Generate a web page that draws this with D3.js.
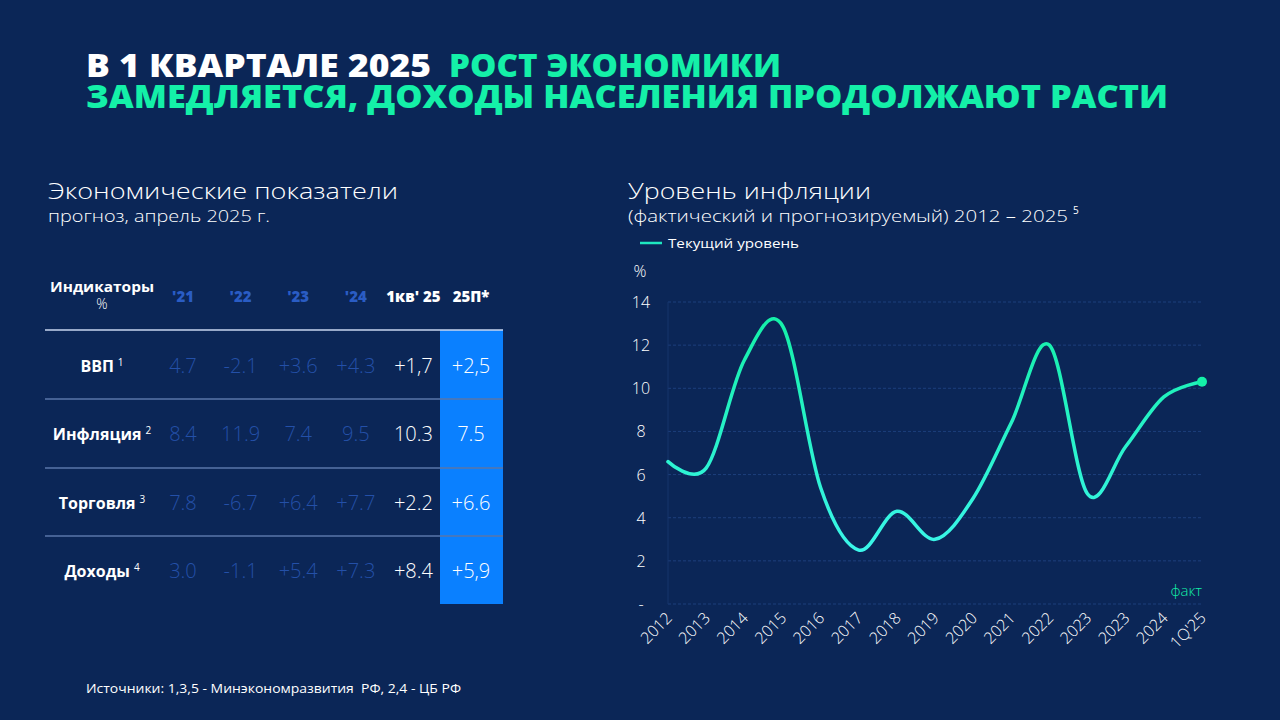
<!DOCTYPE html>
<html>
<head>
<meta charset="utf-8">
<script src="https://cdn.jsdelivr.net/npm/d3@7"></script>
<style>
  body { margin: 0; background: #0b2657; }
  svg { display: block; }
</style>
</head>
<body>
<svg id="slide" width="1280" height="720"></svg>
<script>
// table data
var colHeads = ["'21", "'22", "'23", "'24", "1кв' 25", "25П*"];
var rowNames = ["ВВП", "Инфляция", "Торговля", "Доходы"];
var rowNotes = ["1", "2", "3", "4"];
var gdp = ["4.7", "-2.1", "+3.6", "+4.3", "+1,7", "+2,5"];
var infl = ["8.4", "11.9", "7.4", "9.5", "10.3", "7.5"];
var trade = ["7.8", "-6.7", "+6.4", "+7.7", "+2.2", "+6.6"];
var income = ["3.0", "-1.1", "+5.4", "+7.3", "+8.4", "+5,9"];

// inflation chart data
var years = ["2012", "2013", "2014", "2015", "2016", "2017", "2018", "2019",
             "2020", "2021", "2022", "2023", "2023 ", "2024", "1Q'25"];
var inflation = [6.6, 6.3, 11.3, 12.9, 5.4, 2.5, 4.3, 3.0, 4.9, 8.4, 12.0, 5.1, 7.3, 9.6, 10.3];
var yTicks = [0, 2, 4, 6, 8, 10, 12, 14];

var svg = d3.select("#slide");
var bg = "#0b2657";
var green = "#14f0a8";
var titleFont = "'Open Sans', sans-serif";
var lightFont = "'Open Sans', sans-serif";

svg.append("rect").attr("width", 1280).attr("height", 720).attr("fill", bg);

//Title: one text, each piece fitted to its width
var titleParts = [
    { x: 86, y: 77, len: 345, fill: "#ffffff", txt: "В 1 КВАРТАЛЕ 2025" },
    { x: 449, y: 77, len: 332, fill: green, txt: "РОСТ ЭКОНОМИКИ" },
    { x: 86, y: 108, len: 1082, fill: green, txt: "ЗАМЕДЛЯЕТСЯ, ДОХОДЫ НАСЕЛЕНИЯ ПРОДОЛЖАЮТ РАСТИ" }
];
svg.append("text")
   .attr("font-family", titleFont)
   .attr("font-weight", 800)
   .attr("font-size", "32px")
   .selectAll("tspan")
   .data(titleParts)
   .enter()
   .append("tspan")
   .attr("x", function(d) { return d.x; })
   .attr("y", function(d) { return d.y; })
   .attr("fill", function(d) { return d.fill; })
   .attr("textLength", function(d) { return d.len; })
   .attr("lengthAdjust", "spacingAndGlyphs")
   .text(function(d) { return d.txt; });

//Section headings
function heading(x, big, small, bigLen, smallLen) {
    svg.append("text")
       .attr("x", x).attr("y", 199)
       .attr("font-family", lightFont)
       .attr("font-weight", 300)
       .attr("font-size", "22px")
       .attr("fill", "#ffffff")
       .attr("textLength", bigLen)
       .attr("lengthAdjust", "spacingAndGlyphs")
       .text(big);
    svg.append("text")
       .attr("x", x).attr("y", 221.5)
       .attr("font-family", lightFont)
       .attr("font-weight", 300)
       .attr("font-size", "15.5px")
       .attr("fill", "#ffffff")
       .attr("textLength", smallLen)
       .attr("lengthAdjust", "spacingAndGlyphs")
       .text(small);
}
heading(48, "Экономические показатели", "прогноз, апрель 2025 г.", 350, 222);
heading(628, "Уровень инфляции", "(фактический и прогнозируемый) 2012 – 2025", 243, 440);
svg.append("text")
   .attr("x", 1073).attr("y", 214)
   .attr("font-family", lightFont)
   .attr("font-size", "10px")
   .attr("fill", "#ffffff")
   .text("5");

//Table
var colX = d3.scalePoint().domain(colHeads).range([183, 471]);
var rowY = d3.scalePoint().domain(rowNames).range([366, 571]);
var rows = [gdp, infl, trade, income];
var tableFont = "'Open Sans', sans-serif";

svg.append("rect")
   .attr("x", 440).attr("y", 330)
   .attr("width", 63).attr("height", 274)
   .attr("fill", "#0a80ff");

svg.append("text")
   .attr("x", 102).attr("y", 292)
   .attr("text-anchor", "middle")
   .attr("font-family", tableFont).attr("font-weight", 700)
   .attr("font-size", "14px").attr("fill", "#ffffff")
   .attr("textLength", 104)
   .attr("lengthAdjust", "spacingAndGlyphs")
   .text("Индикаторы");
svg.append("text")
   .attr("x", 102).attr("y", 309)
   .attr("text-anchor", "middle")
   .attr("font-family", tableFont).attr("font-weight", 300)
   .attr("font-size", "14px").attr("fill", "#ffffff")
   .text("%");

svg.selectAll("text.colhead")
   .data(colHeads)
   .enter()
   .append("text")
   .attr("class", "colhead")
   .attr("x", function(d) { return colX(d); })
   .attr("y", 302)
   .attr("text-anchor", "middle")
   .attr("font-family", tableFont)
   .attr("font-weight", 800)
   .attr("font-size", "15px")
   .attr("fill", function(d, i) { return i < 4 ? "#2a5cc4" : "#ffffff"; })
   .text(function(d) { return d; });

// row separators
var lineYs = [330, 399, 468, 536];
svg.selectAll("line.sep")
   .data(lineYs)
   .enter()
   .append("line")
   .attr("class", "sep")
   .attr("x1", 45).attr("x2", 503)
   .attr("y1", function(d) { return d; })
   .attr("y2", function(d) { return d; })
   .attr("stroke", function(d, i) { return i == 0 ? "#c9d6ef" : "#5a76a8"; })
   .attr("stroke-width", 1.5);

var rowLab = svg.selectAll("text.rowname")
   .data(rowNames)
   .enter()
   .append("text")
   .attr("class", "rowname")
   .attr("x", 102)
   .attr("y", function(d) { return rowY(d) + 6; })
   .attr("text-anchor", "middle")
   .attr("font-family", tableFont)
   .attr("font-weight", 700)
   .attr("font-size", "16px")
   .attr("fill", "#ffffff")
   .text(function(d) { return d; });
rowLab.append("tspan")
   .attr("dx", 4).attr("dy", -6)
   .attr("font-size", "10px")
   .attr("font-weight", 400)
   .text(function(d, i) { return rowNotes[i]; });

rows.forEach(function(vals, r) {
    svg.selectAll("text.val" + r)
       .data(vals)
       .enter()
       .append("text")
       .attr("class", "val" + r)
       .attr("x", function(d, i) { return colX(colHeads[i]); })
       .attr("y", rowY(rowNames[r]) + 7)
       .attr("text-anchor", "middle")
       .attr("font-family", tableFont)
       .attr("font-weight", 300)
       .attr("font-size", "20px")
       .attr("fill", function(d, i) { return i < 4 ? "#2450a8" : "#ffffff"; })
       .text(function(d) { return d; });
});

//Inflation chart
var x = d3.scalePoint().domain(years).range([668, 1202]);
var y = d3.scaleLinear().domain([0, 14]).range([604, 302]);

svg.selectAll("line.grid")
   .data(yTicks)
   .enter()
   .append("line")
   .attr("class", "grid")
   .attr("x1", 668).attr("x2", 1202)
   .attr("y1", function(d) { return y(d); })
   .attr("y2", function(d) { return y(d); })
   .attr("stroke", "#1d3f7c")
   .attr("stroke-width", 1)
   .attr("stroke-dasharray", "3,2");

svg.append("line")
   .attr("x1", 668).attr("x2", 668)
   .attr("y1", y(14)).attr("y2", y(0))
   .attr("stroke", "#17356c");

svg.selectAll("text.ytick")
   .data(yTicks)
   .enter()
   .append("text")
   .attr("class", "ytick")
   .attr("x", 641)
   .attr("y", function(d) { return y(d) + 6; })
   .attr("text-anchor", "middle")
   .attr("font-family", lightFont)
   .attr("font-weight", 300)
   .attr("font-size", "16px")
   .attr("fill", "#ffffff")
   .text(function(d) { return d == 0 ? "-" : d; });

svg.append("text")
   .attr("x", 640).attr("y", 277)
   .attr("text-anchor", "middle")
   .attr("font-family", lightFont)
   .attr("font-weight", 300)
   .attr("font-size", "16px")
   .attr("fill", "#ffffff")
   .text("%");

svg.selectAll("text.xtick")
   .data(years)
   .enter()
   .append("text")
   .attr("class", "xtick")
   .attr("text-anchor", "end")
   .attr("transform", function(d) {
        return "translate(" + (x(d) + 5) + "," + 619 + ") rotate(-45)";
   })
   .attr("font-family", lightFont)
   .attr("font-weight", 300)
   .attr("font-size", "16px")
   .attr("fill", "#ffffff")
   .text(function(d) { return d.trim(); });

var grad = svg.append("defs").append("linearGradient")
   .attr("id", "lineGrad")
   .attr("gradientUnits", "userSpaceOnUse")
   .attr("x1", 0).attr("x2", 0)
   .attr("y1", y(14)).attr("y2", y(2));
grad.append("stop").attr("offset", "0%").attr("stop-color", "#12efa4");
grad.append("stop").attr("offset", "100%").attr("stop-color", "#3cf6ec");

var line = d3.line()
   .x(function(d, i) { return x(years[i]); })
   .y(function(d) { return y(d); })
   .curve(d3.curveCatmullRom.alpha(0));

svg.append("path")
   .datum(inflation)
   .attr("d", line)
   .attr("fill", "none")
   .attr("stroke", "url(#lineGrad)")
   .attr("stroke-width", 3.5)
   .attr("stroke-linecap", "round");

svg.append("circle")
   .attr("cx", x(years[years.length - 1]))
   .attr("cy", y(inflation[inflation.length - 1]))
   .attr("r", 5)
   .attr("fill", green);

svg.append("text")
   .attr("x", 1202).attr("y", 596)
   .attr("text-anchor", "end")
   .attr("font-family", lightFont)
   .attr("font-weight", 300)
   .attr("font-size", "15px")
   .attr("fill", green)
   .text("факт");

//Legend
svg.append("line")
   .attr("x1", 640).attr("x2", 662)
   .attr("y1", 243).attr("y2", 243)
   .attr("stroke", "#1ee8c0")
   .attr("stroke-width", 2.5);
svg.append("text")
   .attr("x", 668).attr("y", 247.5)
   .attr("font-family", lightFont)
   .attr("font-weight", 400)
   .attr("font-size", "13.5px")
   .attr("fill", "#ffffff")
   .attr("textLength", 131)
   .attr("lengthAdjust", "spacingAndGlyphs")
   .text("Текущий уровень");

//Footer
svg.append("text")
   .attr("x", 86).attr("y", 693)
   .attr("font-family", lightFont)
   .attr("font-weight", 400)
   .attr("font-size", "13px")
   .attr("fill", "#ffffff")
   .attr("xml:space", "preserve")
   .attr("textLength", 375)
   .attr("lengthAdjust", "spacingAndGlyphs")
   .text("Источники: 1,3,5 - Минэкономразвития  РФ, 2,4 - ЦБ РФ");
</script>
</body>
</html>
